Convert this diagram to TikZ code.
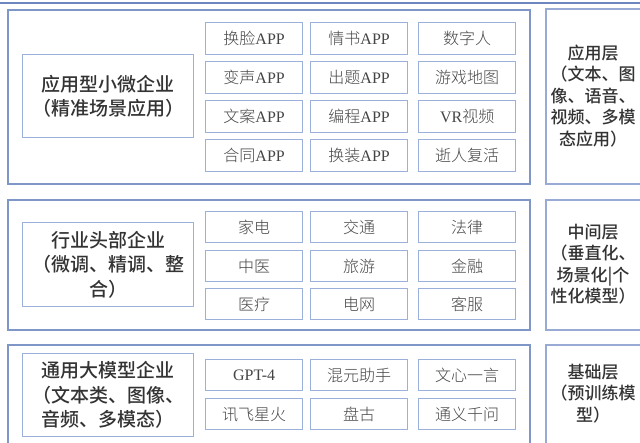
\documentclass[tikz,border=0pt]{standalone}
\usepackage{fontspec}
\newfontfamily\cjk{Noto Sans CJK SC}
\newfontfamily\cjkb{Noto Sans CJK SC Medium}
\newfontfamily\cjkl{Noto Sans CJK SC Light}
\newfontfamily\lat{Liberation Serif}
\definecolor{toplinec}{HTML}{6E86C0}
\definecolor{outerc}{HTML}{7F96C9}
\definecolor{innerc}{HTML}{9BB0DB}
\definecolor{headc}{HTML}{333333}
\definecolor{cellc}{HTML}{454545}
\begin{document}
\begin{tikzpicture}[x=1pt,y=-1pt,
  outerbox/.style={draw=outerc, line width=2pt, anchor=north west, inner sep=0pt, minimum width=522pt},
  sidebox/.style={draw=outerc!80, line width=1.6pt, anchor=north west, inner sep=0pt, minimum width=96pt},
  inbox/.style={draw=innerc, line width=1.3pt, anchor=north west, inner sep=0pt},
  cell/.style={inbox, minimum width=97pt, minimum height=32pt, font=\cjkl\fontsize{16}{18}\selectfont, text=cellc},
  headbox/.style={inbox, minimum width=171pt, align=center, text=headc, font=\cjkb\fontsize{19}{24.5}\selectfont},
  sidetext/.style={align=center, text=headc, inner sep=0pt, font=\cjkb\fontsize{17}{21.5}\selectfont}
]
\useasboundingbox (0,0) rectangle (640,443);
\clip (0,0) rectangle (640,443);
\fill[white] (0,0) rectangle (640,443);
\draw[toplinec, line width=2pt] (0,3.5) -- (640,3.5);

% ---------- application layer ----------
\node[outerbox, minimum height=174pt] (appOuter) at (7,9) {};
\node[sidebox, minimum height=175pt] (appSide) at (545,8) {};
\node[sidetext] (appSideText) at (593,96) {应用层\\（文本、图\\像、语音、\\视频、多模\\态应用）};
\node[headbox, minimum height=83pt] (appHead) at (22,54) {应用型小微企业\\（精准场景应用）};

\node[cell] (a11) at (205,22) {换脸{\lat APP}};
\node[cell] (a12) at (310,22) {情书{\lat APP}};
\node[cell] (a13) at (418,22) {数字人};
\node[cell] (a21) at (205,61) {变声{\lat APP}};
\node[cell] (a22) at (310,61) {出题{\lat APP}};
\node[cell] (a23) at (418,61) {游戏地图};
\node[cell] (a31) at (205,100) {文案{\lat APP}};
\node[cell] (a32) at (310,100) {编程{\lat APP}};
\node[cell] (a33) at (418,100) {{\lat VR}视频};
\node[cell] (a41) at (205,139) {合同{\lat APP}};
\node[cell] (a42) at (310,139) {换装{\lat APP}};
\node[cell] (a43) at (418,139) {逝人复活};

% ---------- middle layer ----------
\node[outerbox, minimum height=130pt] (midOuter) at (7,199) {};
\node[sidebox, minimum height=130pt] (midSide) at (545,199) {};
\node[sidetext] (midSideText) at (593,264) {中间层\\（垂直化、\\场景化|个\\性化模型）};
\node[headbox, minimum height=84pt] (midHead) at (22,222) {行业头部企业\\（微调、精调、整\\合）};

\node[cell, minimum height=31pt] (m11) at (205,211) {家电};
\node[cell, minimum height=31pt] (m12) at (310,211) {交通};
\node[cell, minimum height=31pt] (m13) at (418,211) {法律};
\node[cell, minimum height=31pt] (m21) at (205,250) {中医};
\node[cell, minimum height=31pt] (m22) at (310,250) {旅游};
\node[cell, minimum height=31pt] (m23) at (418,250) {金融};
\node[cell, minimum height=31pt] (m31) at (205,288) {医疗};
\node[cell, minimum height=31pt] (m32) at (310,288) {电网};
\node[cell, minimum height=31pt] (m33) at (418,288) {客服};

% ---------- base layer ----------
\node[outerbox, minimum height=120pt] (baseOuter) at (7,344) {};
\node[sidebox, minimum height=120pt] (baseSide) at (545,344) {};
\node[sidetext] (baseSideText) at (593,393.5) {基础层\\（预训练模\\型）};
\node[headbox, minimum height=83pt] (baseHead) at (22,353) {通用大模型企业\\（文本类、图像、\\音频、多模态）};

\node[cell, minimum height=31pt] (b11) at (205,359) {{\lat GPT-4}};
\node[cell, minimum height=31pt] (b12) at (310,359) {混元助手};
\node[cell, minimum height=31pt] (b13) at (418,359) {文心一言};
\node[cell, minimum height=31pt] (b21) at (205,398) {讯飞星火};
\node[cell, minimum height=31pt] (b22) at (310,398) {盘古};
\node[cell, minimum height=31pt] (b23) at (418,398) {通义千问};
\end{tikzpicture}
\end{document}
